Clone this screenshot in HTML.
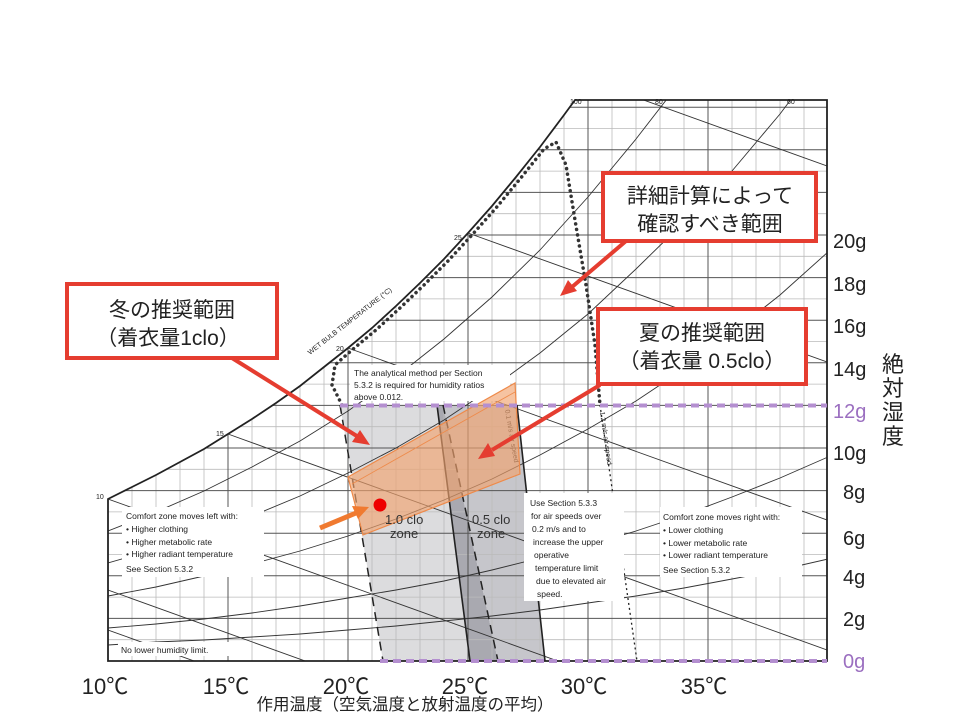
<!DOCTYPE html>
<html><head><meta charset="utf-8"><style>
html,body{margin:0;background:#fff;width:960px;height:720px;overflow:hidden;}
svg{display:block;font-family:"Liberation Sans","Noto Sans CJK JP",sans-serif;}
.s{font-size:8.5px;fill:#222;}
</style></head><body>
<svg width="960" height="720" viewBox="0 0 960 720" xmlns="http://www.w3.org/2000/svg">
<defs>
<clipPath id="c"><path d="M108,499 L132,487 L156,475 L180,462 L204,449 L228,434 L252,419 L276,403 L300,386 L324,367 L348,348 L372,328 L396,306 L420,283 L444,259 L468,233 L492,206 L516,177 L540,147 L564,115 L575,100 L827,100 L827,661 L108,661 Z"/></clipPath>
</defs>
<rect width="960" height="720" fill="#fff"/>
<g clip-path="url(#c)">
 <polygon points="340,405 437,405 470,661 383,661" fill="#dcdcde"/>
 <polygon points="437,405 443,405 498,661 470,661" fill="#a9a9b0"/>
 <polygon points="443,405 517,405 545,661 498,661" fill="#c6c6cb"/>
 <g stroke="#bbb" stroke-width="0.8">
  <path d="M132,100V661M156,100V661M180,100V661M204,100V661M252,100V661M276,100V661M300,100V661M324,100V661M372,100V661M396,100V661M420,100V661M444,100V661M492,100V661M516,100V661M540,100V661M564,100V661M612,100V661M636,100V661M660,100V661M684,100V661M732,100V661M756,100V661M780,100V661M804,100V661"/>
  <path d="M108,639.7H827M108,597.1H827M108,554.5H827M108,511.9H827M108,469.3H827M108,426.7H827M108,384.1H827M108,341.5H827M108,298.9H827M108,256.3H827M108,213.7H827M108,171.1H827M108,128.5H827"/>
 </g>
 <g stroke="#555" stroke-width="1">
  <path d="M228,100V661M348,100V661M468,100V661M588,100V661M708,100V661"/>
  <path d="M108,618.4H827M108,575.8H827M108,533.2H827M108,490.6H827M108,448H827M108,405.4H827M108,362.8H827M108,320.2H827M108,277.6H827M108,235H827M108,192.4H827M108,149.8H827M108,107.2H827"/>
 </g>
 <g stroke="#333" stroke-width="0.9" fill="none">
  <polyline points="108,531 156,512 204,491 252,467 300,441 348,411 396,377 444,339 492,297 540,250 588,197 636,139 684,77"/>
  <polyline points="108,563 156,549 204,534 252,516 300,496 348,473 396,448 444,420 492,388 540,353 588,314 636,269 684,222 732,171 780,114 828,50"/>
  <polyline points="108,596 156,587 204,576 252,564 300,551 348,536 396,519 444,500 492,479 540,455 588,429 636,401 684,369 732,333 780,295 828,252"/>
  <polyline points="108,628 156,624 204,619 252,613 300,606 348,598 396,590 444,581 492,570 540,558 588,545 636,531 684,515 732,497 780,478 828,457"/>
  <polyline points="108,645 156,642 204,640 252,637 300,634 348,630 396,626 444,621 492,616 540,610 588,603 636,596 684,588 732,579 780,570 828,559"/>
  <path d="M588,80L827,166M468,233L827,362M348,348L827,520M228,434L827,650M108,499L827,758M108,590L827,849M108,630L827,889"/>
 </g>
 <path d="M340,405L383,661" stroke="#222" stroke-width="1.5" stroke-dasharray="9,6" fill="none"/>
 <path d="M443,405L498,661" stroke="#222" stroke-width="1.5" stroke-dasharray="9,6" fill="none"/>
 <path d="M437,405L470,661M517,405L545,661" stroke="#222" stroke-width="1.6" fill="none"/>
 <path d="M600,405L637,661" stroke="#222" stroke-width="1.3" stroke-dasharray="2,3" fill="none"/>
</g>
<path d="M108,499 L132,487 L156,475 L180,462 L204,449 L228,434 L252,419 L276,403 L300,386 L324,367 L348,348 L372,328 L396,306 L420,283 L444,259 L468,233 L492,206 L516,177 L540,147 L564,115 L575,100 L827,100 L827,661 L108,661 Z" fill="none" stroke="#222" stroke-width="1.8"/>
<path d="M342,405 L332,385 L335,365 L352,350 L376,330 L400,308 L424,285 L448,261 L472,235 L496,208 L520,179 L544,149 L556,142 L566,165 L575,220 L586,285 L595,345 L600,405" fill="none" stroke="#333" stroke-width="3.5" stroke-dasharray="0.1,5.5" stroke-linecap="round"/>
<rect x="350" y="365" width="160" height="36" fill="#fff"/>
<text class="s" x="354" y="376">The analytical method per Section</text>
<text class="s" x="354" y="388">5.3.2 is required for humidity ratios</text>
<text class="s" x="354" y="400">above 0.012.</text>
<rect x="122" y="507" width="142" height="70" fill="#fff"/>
<text class="s" x="126" y="519">Comfort zone moves left with:</text>
<text class="s" x="126" y="532">• Higher clothing</text>
<text class="s" x="126" y="545">• Higher metabolic rate</text>
<text class="s" x="126" y="557">• Higher radiant temperature</text>
<text class="s" x="126" y="572">See Section 5.3.2</text>
<rect x="118" y="642" width="112" height="14" fill="#fff"/>
<text class="s" x="121" y="653">No lower humidity limit.</text>
<rect x="524" y="493" width="100" height="108" fill="#fff"/>
<text class="s" x="530" y="506">Use Section 5.3.3</text>
<text class="s" x="531" y="519">for air speeds over</text>
<text class="s" x="532" y="532">0.2 m/s and to</text>
<text class="s" x="533" y="545">increase the upper</text>
<text class="s" x="534" y="558">operative</text>
<text class="s" x="535" y="571">temperature limit</text>
<text class="s" x="536" y="584">due to elevated air</text>
<text class="s" x="537" y="597">speed.</text>
<rect x="660" y="507" width="142" height="70" fill="#fff"/>
<text class="s" x="663" y="520">Comfort zone moves right with:</text>
<text class="s" x="663" y="533">• Lower clothing</text>
<text class="s" x="663" y="546">• Lower metabolic rate</text>
<text class="s" x="663" y="558">• Lower radiant temperature</text>
<text class="s" x="663" y="573">See Section 5.3.2</text>
<text font-size="7" fill="#222" transform="translate(505,410) rotate(80)">0.1 m/s air speed</text>
<text font-size="7" fill="#222" transform="translate(600,412) rotate(82)">1.2 m/s air speed</text>
<text font-size="7" fill="#222" transform="translate(310,355) rotate(-38)">WET BULB TEMPERATURE (°C)</text>
<text font-size="7" fill="#222" x="454" y="240">25</text>
<text font-size="7" fill="#222" x="336" y="351">20</text>
<text font-size="7" fill="#222" x="216" y="436">15</text>
<text font-size="7" fill="#222" x="96" y="499">10</text>
<text font-size="7" fill="#222" x="570" y="104">100</text>
<text font-size="7" fill="#222" x="655" y="104">80</text>
<text font-size="7" fill="#222" x="787" y="104">60</text>
<polygon points="348,477 515,383 520,474 363,535" fill="#f1a36f" fill-opacity="0.65" stroke="#ee8a4a" stroke-width="1.2"/>
<path d="M352,484 L515,392" stroke="#ee8a4a" stroke-width="0.8"/>
<text x="385" y="524" font-size="13" fill="#333">1.0 clo</text>
<text x="390" y="538" font-size="13" fill="#333">zone</text>
<text x="472" y="524" font-size="13" fill="#333">0.5 clo</text>
<text x="477" y="538" font-size="13" fill="#333">zone</text>
<path d="M340,405.5H827" stroke="#b48fd0" stroke-width="4" stroke-dasharray="8,5"/>
<path d="M380,661H827" stroke="#b48fd0" stroke-width="4" stroke-dasharray="8,5"/>
<circle cx="380" cy="505" r="6.5" fill="#e00"/>
<path d="M320,528 L356,513" stroke="#f07a30" stroke-width="5"/>
<polygon points="369,507 352,506 358,519" fill="#f07a30"/>
<g fill="none" stroke="#e53d30" stroke-width="4">
 <rect x="67" y="284" width="210" height="74" fill="#fff"/>
 <rect x="603" y="173" width="213" height="68" fill="#fff"/>
 <rect x="598" y="309" width="208" height="75" fill="#fff"/>
 <path d="M232,358 L360,438 M626,241 L572,287 M600,385 L492,450"/>
</g>
<g fill="#e53d30">
 <polygon points="370,445 352,442 360,430"/>
 <polygon points="560,296 568,280 577,291"/>
 <polygon points="478,459 488,443 495,456"/>
</g>
<g font-size="21" fill="#222" text-anchor="middle">
 <text x="172" y="317">冬の推奨範囲</text>
 <text x="168" y="345">（着衣量1clo）</text>
 <text x="710" y="203">詳細計算によって</text>
 <text x="710" y="231">確認すべき範囲</text>
 <text x="702" y="340">夏の推奨範囲</text>
 <text x="702" y="368">（着衣量 0.5clo）</text>
</g>
<g font-size="20" fill="#222">
 <text x="833" y="248">20g</text>
 <text x="833" y="291">18g</text>
 <text x="833" y="333">16g</text>
 <text x="833" y="376">14g</text>
 <text x="833" y="418" fill="#9b6fc0">12g</text>
 <text x="833" y="460">10g</text>
 <text x="843" y="499">8g</text>
 <text x="843" y="545">6g</text>
 <text x="843" y="584">4g</text>
 <text x="843" y="626">2g</text>
 <text x="843" y="668" fill="#9b6fc0">0g</text>
</g>
<g font-size="22" fill="#222" text-anchor="middle">
 <text x="893" y="372">絶</text>
 <text x="893" y="396">対</text>
 <text x="893" y="420">湿</text>
 <text x="893" y="444">度</text>
</g>
<g font-size="22" fill="#222" text-anchor="middle">
 <text x="105" y="694">10℃</text>
 <text x="226" y="694">15℃</text>
 <text x="346" y="694">20℃</text>
 <text x="465" y="694">25℃</text>
 <text x="584" y="694">30℃</text>
 <text x="704" y="694">35℃</text>
</g>
<text x="405" y="710" font-size="16.5" fill="#222" text-anchor="middle">作用温度（空気温度と放射温度の平均）</text>
</svg>
</body></html>
